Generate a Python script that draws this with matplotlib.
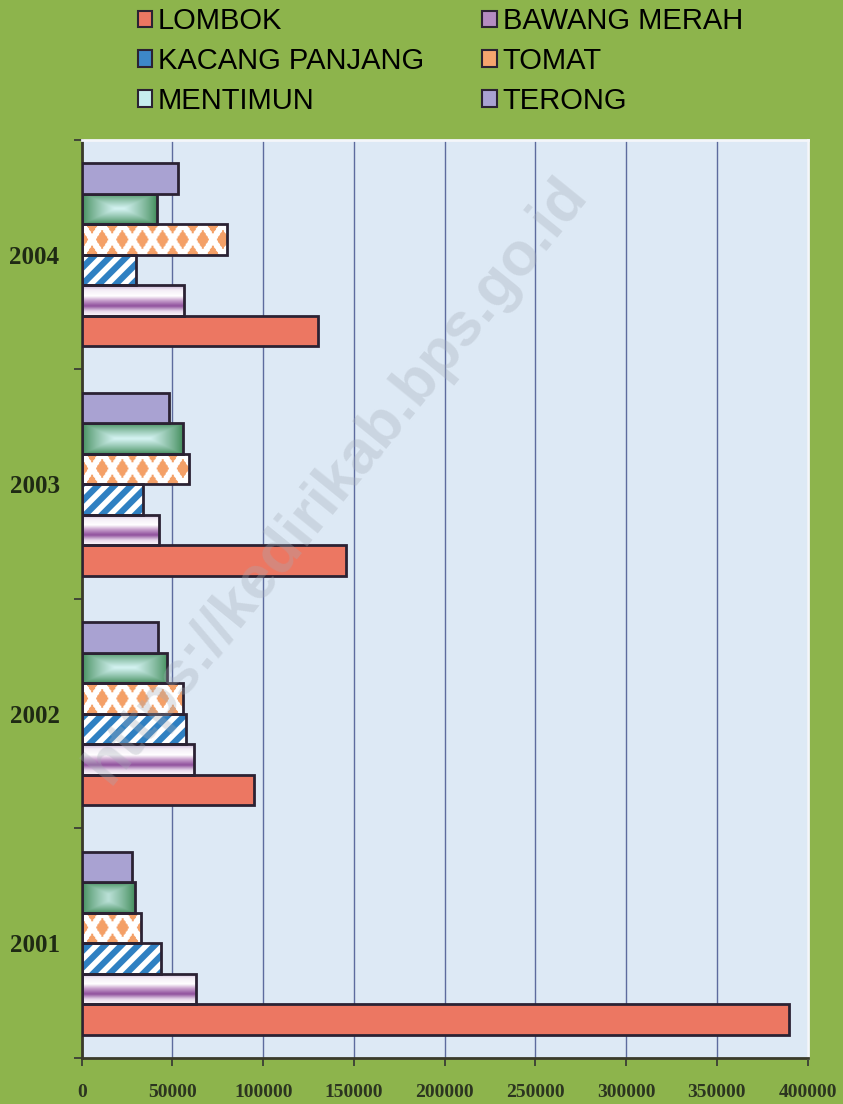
import numpy as np
import matplotlib
matplotlib.use('Agg')
import matplotlib.pyplot as plt
from matplotlib.patches import Patch
from matplotlib.colors import to_rgb

# produksi sayuran per tahun
years = ['2001', '2002', '2003', '2004']
series = ['LOMBOK', 'BAWANG MERAH', 'KACANG PANJANG', 'TOMAT', 'MENTIMUN', 'TERONG']
lombok = [390000, 95000, 145500, 130000]
bawang_merah = [63200, 61700, 42700, 56200]
kacang_panjang = [43400, 57200, 33700, 29800]
tomat = [32400, 55600, 59000, 79900]
mentimun = [29100, 47200, 55600, 41300]
terong = [27500, 42200, 48300, 53000]
values = [lombok, bawang_merah, kacang_panjang, tomat, mentimun, terong]
x_ticks = [0, 50000, 100000, 150000, 200000, 250000, 300000, 350000, 400000]

green = '#8db44c'
plot_bg = '#dde9f5'
edge = '#2b2233'

plt.rcParams['hatch.linewidth'] = 4.5

fig = plt.figure(figsize=(8.43, 11.04), dpi=100, facecolor=green)
ax = fig.add_axes([0.097, 0.0417, 0.861, 0.8315])
ax.set_facecolor(plot_bg)
ax.set_xlim(0, 400000)
ax.set_ylim(-0.5, 3.5)

pos = np.arange(len(years))
h = 0.133


def px_size(x0, x1, y0, y1):
    a = ax.transData.transform((x0, y0))
    b = ax.transData.transform((x1, y1))
    return max(int(abs(b[0] - a[0])), 2), max(int(abs(b[1] - a[1])), 2)


def fill_image(patch, img):
    x0, y0 = patch.get_x(), patch.get_y()
    x1, y1 = x0 + patch.get_width(), y0 + patch.get_height()
    im = ax.imshow(img, extent=[x0, x1, y0, y1], aspect='auto', zorder=2,
                   interpolation='bilinear', origin='upper')
    im.set_clip_path(patch)


def blend(c0, c1, t):
    c0 = np.array(to_rgb(c0))
    c1 = np.array(to_rgb(c1))
    return c0 + (c1 - c0) * t[..., None]


def img_bawang(W, H):
    stops_y = [0.0, 0.15, 0.35, 0.5, 0.68, 0.85, 1.0]
    stops_c = ['#c9b3d6', '#f4eef6', '#ffffff', '#c79fcc', '#8f4f9c', '#e6d6ea', '#fbf7fb']
    yy = np.linspace(0, 1, H)
    cols = np.array([to_rgb(c) for c in stops_c])
    prof = np.stack([np.interp(yy, stops_y, cols[:, k]) for k in range(3)], axis=1)
    return np.repeat(prof[:, None, :], W, axis=1)


def img_mentimun(W, H):
    yy, xx = np.mgrid[0:H, 0:W] + 0.5
    e = np.minimum(np.minimum(xx, W - xx) * 0.45, np.minimum(yy, H - yy))
    t = np.clip(e / (H / 2.0), 0, 1) ** 0.8
    return blend('#3e8a57', '#d6f4f4', t)


def img_tomat(W, H):
    P = 20.0
    yy, xx = np.mgrid[0:H, 0:W] + 0.5
    u = xx / (P / 2.0)
    v = (yy - H / 2.0) / (H / 2.0)
    a = (u + v) / 2.0
    b = (u - v) / 2.0
    d = np.maximum(np.abs(a - np.round(a)), np.abs(b - np.round(b)))
    t = (d < 0.31).astype(float)
    return blend('#ffffff', '#f4a067', t)


for i, (name, vals) in enumerate(zip(series, values)):
    y = pos + (i - 2.5) * h
    if name == 'LOMBOK':
        ax.barh(y, vals, height=h, color='#ec7762', edgecolor=edge, linewidth=2, zorder=3)
    elif name == 'TERONG':
        ax.barh(y, vals, height=h, color='#a9a2d2', edgecolor=edge, linewidth=2, zorder=3)
    elif name == 'KACANG PANJANG':
        ax.barh(y, vals, height=h, color='white', edgecolor='#2f80c2', hatch='//',
                linewidth=0, zorder=2)
        ax.barh(y, vals, height=h, fill=False, edgecolor=edge, linewidth=2, zorder=3)
    else:
        bars = ax.barh(y, vals, height=h, facecolor='none', edgecolor=edge,
                       linewidth=2, zorder=3)
        for p in bars:
            W, H = px_size(p.get_x(), p.get_x() + p.get_width(),
                           p.get_y(), p.get_y() + p.get_height())
            if name == 'BAWANG MERAH':
                img = img_bawang(W, H)
            elif name == 'MENTIMUN':
                img = img_mentimun(W, H)
            else:
                img = img_tomat(W, H)
            fill_image(p, img)

ax.set_xlim(0, 400000)
ax.set_ylim(-0.5, 3.5)

ax.set_xticks(x_ticks)
ax.set_xticklabels([str(t) for t in x_ticks], fontfamily='Liberation Serif',
                   fontweight='bold', fontsize=14, color='#2c3520')
ax.set_yticks([-0.5, 0.5, 1.5, 2.5, 3.5])
ax.set_yticklabels([])
ax.set_yticks(pos, minor=True)
ax.set_yticklabels(years, minor=True, fontfamily='Liberation Serif', fontsize=18,
                   fontweight='bold', color='#1f2a14')
ax.tick_params(axis='y', which='minor', length=0, pad=16)
ax.tick_params(axis='y', which='major', length=6, width=1.2, color='#333333')
ax.tick_params(axis='x', length=6, width=1.2, color='#333333', pad=13)

ax.grid(axis='x', color='#5d6b9e', linewidth=1, zorder=1)
ax.set_axisbelow(True)
for s in ['top', 'right']:
    ax.spines[s].set_color('#f4f6fa')
    ax.spines[s].set_linewidth(2)
for s in ['left', 'bottom']:
    ax.spines[s].set_color('#3a3a2a')
    ax.spines[s].set_linewidth(2)

# legenda
handles = [
    Patch(facecolor='#ec7762', edgecolor=edge, linewidth=1.5),
    Patch(facecolor='#3d88c8', edgecolor=edge, linewidth=1.5),
    Patch(facecolor='#c6eeee', edgecolor=edge, linewidth=1.5),
    Patch(facecolor='#b58cc2', edgecolor=edge, linewidth=1.5),
    Patch(facecolor='#f6a56e', edgecolor=edge, linewidth=1.5),
    Patch(facecolor='#a9a2d2', edgecolor=edge, linewidth=1.5),
]
labels = ['LOMBOK', 'KACANG PANJANG', 'MENTIMUN', 'BAWANG MERAH', 'TOMAT', 'TERONG']
fig.legend(handles, labels, ncol=2, loc='upper left', bbox_to_anchor=(0.132, 1.017),
           frameon=False, handlelength=0.5, handleheight=0.5, handletextpad=0.2,
           columnspacing=2.0, labelspacing=0.4,
           prop={'family': 'Liberation Sans', 'size': 21})

# watermark
fig.text(0.40, 0.565, 'https://kedirikab.bps.go.id', rotation=51, ha='center', va='center',
         fontsize=44, fontweight='bold', fontfamily='Liberation Sans',
         color='#a4acb6', alpha=0.32, zorder=10)

fig.savefig('out.png', dpi=100, facecolor=green)
